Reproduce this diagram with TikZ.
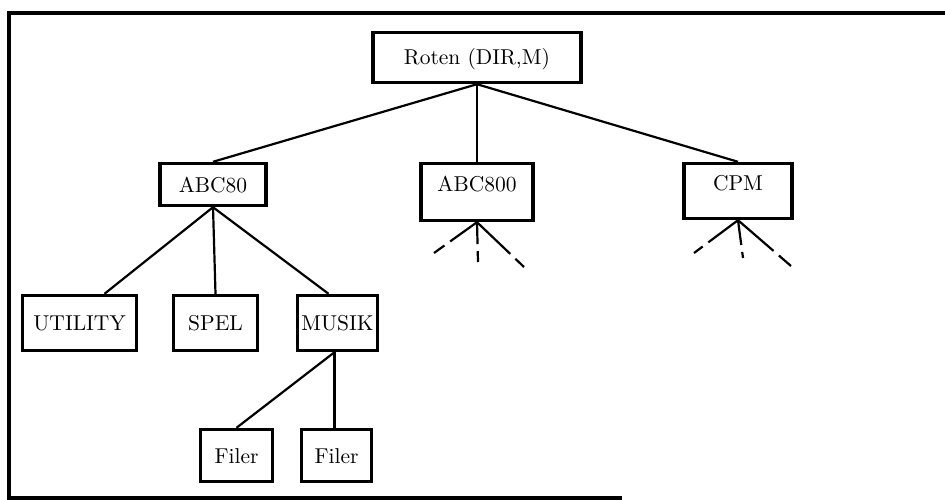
\documentclass[tikz,border=0pt]{standalone}
\usepackage{fontspec}
\setmainfont{lmroman10-regular}[Extension=.otf]
\usetikzlibrary{calc}

\begin{document}
\begin{tikzpicture}[
  x=1pt,
  y=-1pt,
  font=\fontsize{21.5}{25}\selectfont,
  line/.style={draw=black,line width=2.2pt},
  frame/.style={draw=black,line width=4.5pt},
  box/.style={draw=black,line width=3.4pt,inner sep=0pt,align=center,
              text height=15pt,text depth=0pt},
  lowbox/.style={box,text depth=16pt},
  stub/.style={line,dash pattern=on #1 off 7pt on 30pt}
]
\useasboundingbox (0,0) rectangle (945,500);

% ---------------------------------------------------------------- frame (open at the right)
\draw[frame] (945,13) -- (9,13) -- (9,498) -- (622,498);

% ---------------------------------------------------------------- root and first level
\node[box,minimum width=208pt,minimum height=50pt] (root) at (477,57.5) {Roten (DIR,M)};
\node[box,minimum width=106pt,minimum height=42pt] (abc80) at (213,184.5) {ABC80};
\node[lowbox,minimum width=112pt,minimum height=57pt] (abc800) at (477,192) {ABC800};
\node[lowbox,minimum width=108pt,minimum height=55pt] (cpm) at (738,191) {CPM};

\draw[line] (root.south) -- (abc80.north);
\draw[line] (root.south) -- (abc800.north);
\draw[line] (root.south) -- (cpm.north);

% ---------------------------------------------------------------- ABC80 catalogues
\node[box,minimum width=114pt,minimum height=55pt] (utility) at (79.5,323) {UTILITY};
\node[box,minimum width=84pt,minimum height=55pt] (spel) at (215.5,323) {SPEL};
\node[box,minimum width=80pt,minimum height=55pt] (musik) at (337.5,323) {MUSIK};

\draw[line] (abc80.south) -- ($(utility.north)+(25,0)$);
\draw[line] (abc80.south) -- (spel.north);
\draw[line] (abc80.south) -- ($(musik.north)+(-9,0)$);

% files under MUSIK
\node[box,minimum width=72pt,minimum height=52pt] (filer1) at (236.5,455.5) {Filer};
\node[box,minimum width=70pt,minimum height=52pt] (filer2) at (336.5,455.5) {Filer};

\draw[line] ($(musik.south)+(-3,0)$) -- (filer1.north);
\draw[line] ($(musik.south)+(-3,0)$) -- ($(filer2.north)+(-2,0)$);

% ---------------------------------------------------------------- open branches (dashed stubs)
\coordinate (a800l) at (434,253);
\coordinate (a800m) at (478,262);
\coordinate (a800r) at (524,267);
\draw[stub=33pt] (abc800.south) -- (a800l);
\draw[stub=22pt] (abc800.south) -- (a800m);
\draw[stub=46pt] (abc800.south) -- (a800r);

\coordinate (cpml) at (694,253);
\coordinate (cpmm) at (743,258);
\coordinate (cpmr) at (791,266);
\draw[stub=37pt] (cpm.south) -- (cpml);
\draw[stub=25pt] (cpm.south) -- (cpmm);
\draw[stub=47pt] (cpm.south) -- (cpmr);

\end{tikzpicture}
\end{document}
